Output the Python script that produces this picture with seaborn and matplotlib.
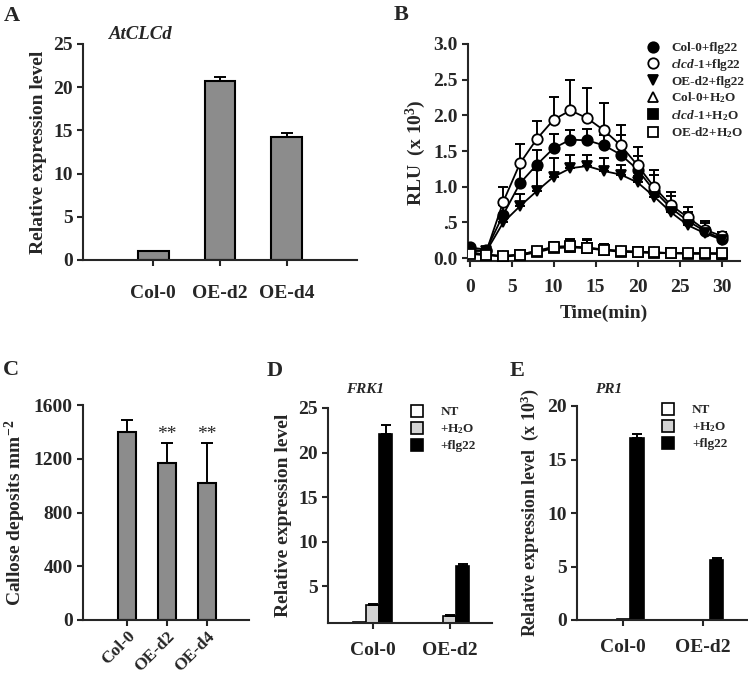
import matplotlib
matplotlib.use('Agg')
import matplotlib.pyplot as plt
from matplotlib.lines import Line2D
import numpy as np
from pandas import DataFrame
import seaborn as sns

# ---- panel A: AtCLCd expression
lines_a = ['Col-0', 'OE-d2', 'OE-d4']
expr_a = [1.0, 20.7, 14.2]
err_a = [0.08, 0.5, 0.45]

# ---- panel B: ROS burst (RLU x 10^3)
time_b = [0, 2, 4, 6, 8, 10, 12, 14, 16, 18, 20, 22, 24, 26, 28, 30]
col_flg = [0.15, 0.12, 0.61, 1.05, 1.31, 1.54, 1.66, 1.65, 1.58, 1.45, 1.24, 0.94, 0.70, 0.52, 0.38, 0.27]
col_flg_err = [0.03, 0.02, 0.14, 0.25, 0.20, 0.20, 0.14, 0.16, 0.14, 0.28, 0.19, 0.23, 0.17, 0.13, 0.11, 0.06]
clcd_flg = [0.10, 0.10, 0.79, 1.33, 1.67, 1.94, 2.07, 1.96, 1.79, 1.58, 1.30, 0.99, 0.74, 0.57, 0.40, 0.31]
clcd_flg_err = [0.03, 0.02, 0.20, 0.27, 0.25, 0.32, 0.42, 0.43, 0.39, 0.28, 0.26, 0.25, 0.18, 0.14, 0.12, 0.05]
oe_flg = [0.12, 0.10, 0.50, 0.73, 0.94, 1.14, 1.26, 1.29, 1.22, 1.17, 1.06, 0.86, 0.64, 0.46, 0.35, 0.26]
oe_flg_err = [0.02, 0.02, 0.10, 0.17, 0.30, 0.26, 0.19, 0.16, 0.18, 0.13, 0.09, 0.07, 0.09, 0.09, 0.07, 0.04]
col_h2o = [0.07, 0.05, 0.03, 0.05, 0.10, 0.15, 0.16, 0.15, 0.12, 0.10, 0.09, 0.08, 0.07, 0.07, 0.07, 0.06]
clcd_h2o = [0.08, 0.05, 0.02, 0.04, 0.08, 0.14, 0.15, 0.14, 0.11, 0.09, 0.08, 0.07, 0.07, 0.06, 0.06, 0.06]
oe_h2o = [0.06, 0.04, 0.03, 0.05, 0.10, 0.16, 0.17, 0.14, 0.12, 0.10, 0.09, 0.08, 0.07, 0.07, 0.07, 0.07]
h2o_err = [0.02, 0.02, 0.02, 0.02, 0.04, 0.06, 0.10, 0.12, 0.08, 0.05, 0.03, 0.02, 0.02, 0.02, 0.02, 0.02]

# ---- panel C: callose deposits
lines_c = ['Col-0', 'OE-d2', 'OE-d4']
callose = [1400, 1170, 1020]
callose_err = [90, 145, 295]
signif_c = ['', '**', '**']

# ---- panels D / E: marker genes
groups_de = ['Col-0', 'OE-d2']
treat_de = ['NT', '+H$_2$O', '+flg22']
frk1 = {'NT': [1.0, 0.9], '+H$_2$O': [2.9, 1.7], '+flg22': [22.1, 7.3]}
frk1_err = {'NT': [0.0, 0.0], '+H$_2$O': [0.12, 0.1], '+flg22': [1.0, 0.2]}
pr1 = {'NT': [0.02, 0.02], '+H$_2$O': [0.05, 0.04], '+flg22': [17.0, 5.6]}
pr1_err = {'NT': [0.0, 0.0], '+H$_2$O': [0.0, 0.0], '+flg22': [0.4, 0.15]}
treat_colors = ['white', '#d3d3d3', 'black']

sns.set_style('ticks')
plt.rcParams['font.family'] = ['Liberation Serif', 'DejaVu Serif']
plt.rcParams['font.weight'] = 'bold'
plt.rcParams['axes.labelweight'] = 'bold'
plt.rcParams['mathtext.fontset'] = 'custom'
plt.rcParams['mathtext.rm'] = 'Liberation Serif:bold'
plt.rcParams['mathtext.it'] = 'Liberation Serif:bold:italic'
plt.rcParams['mathtext.bf'] = 'Liberation Serif:bold'
plt.rcParams['mathtext.default'] = 'rm'
plt.rcParams['axes.linewidth'] = 1.5
plt.rcParams['xtick.major.width'] = 1.5
plt.rcParams['ytick.major.width'] = 1.5
plt.rcParams['xtick.major.size'] = 4
plt.rcParams['ytick.major.size'] = 4

TICK = 14
LAB = 14

fig = plt.figure(figsize=(7.48, 6.8), dpi=100)


def px_axes(l, t, r, b):
    W, H = 748.0, 680.0
    return fig.add_axes([l / W, 1 - b / H, (r - l) / W, (b - t) / H])


def style(ax, size=TICK):
    sns.despine(ax=ax)
    ax.tick_params(axis='both', labelsize=size)
    for t in ax.get_xticklabels() + ax.get_yticklabels():
        t.set_fontweight('bold')


def upper_err(ax, x, y, e, cap=4):
    ax.errorbar(x, y, yerr=[np.zeros(len(e)), e], fmt='none', ecolor='black',
                elinewidth=1.4, capsize=cap, capthick=1.4, zorder=1)


# ================= A
axA = px_axes(83, 44, 357, 260)
dfa = DataFrame({'line': lines_a, 'expr': expr_a})
sns.barplot(data=dfa, x='line', y='expr', color='#8c8c8c', saturation=1,
            edgecolor='black', linewidth=1.5, width=0.46, errorbar=None, ax=axA)
upper_err(axA, range(3), expr_a, err_a)
axA.set_xlim(-1.05, 3.05)
axA.set_ylim(0, 25)
axA.set_yticks([0, 5, 10, 15, 20, 25])
axA.set_xlabel('')
axA.set_ylabel('Relative expression level', fontsize=LAB)
style(axA)
axA.tick_params(axis='x', pad=14)
axA.text(-0.18, 26.05, 'AtCLCd', fontsize=13.5, fontstyle='italic', fontweight='bold',
         ha='center', va='center')

# ================= B
axB = px_axes(468, 44, 740, 261)
series_b = [
    ('Col-0+flg22', col_flg, col_flg_err, 'o', 'black'),
    ('$\\mathit{clcd}$-$\\mathit{1}$+flg22', clcd_flg, clcd_flg_err, 'o', 'white'),
    ('OE-d2+flg22', oe_flg, oe_flg_err, 'v', 'black'),
    ('Col-0+H$_2$O', col_h2o, h2o_err, '^', 'white'),
    ('$\\mathit{clcd}$-$\\mathit{1}$+H$_2$O', clcd_h2o, h2o_err, 's', 'black'),
    ('OE-d2+H$_2$O', oe_h2o, h2o_err, 's', 'white'),
]
handles = []
for lab, vals, err, mk, fc in series_b:
    upper_err(axB, time_b, vals, err, cap=3.5)
    sns.lineplot(x=time_b, y=vals, ax=axB, color='black', linewidth=1.3,
                 marker=mk, markersize=7.5, markerfacecolor=fc,
                 markeredgecolor='black', markeredgewidth=1.3, zorder=3)
    handles.append(Line2D([], [], linestyle='none', marker=mk, markersize=7.5,
                          markerfacecolor=fc, markeredgecolor='black', markeredgewidth=1.3))
axB.set_xlim(-0.2, 32.2)
axB.set_ylim(-0.04, 3.0)
axB.set_xticks([0, 5, 10, 15, 20, 25, 30])
axB.set_yticks([0, 0.5, 1.0, 1.5, 2.0, 2.5, 3.0])
axB.set_yticklabels(['0.0', '.5', '1.0', '1.5', '2.0', '2.5', '3.0'])
axB.set_xlabel('Time(min)', fontsize=LAB, labelpad=6)
axB.set_ylabel('RLU  (x 10$^{3}$)', fontsize=LAB)
style(axB)
axB.tick_params(axis='x', pad=9)
axB.legend(handles, [s[0] for s in series_b], loc='upper left', bbox_to_anchor=(0.63, 1.04),
           frameon=False, fontsize=9.5, handlelength=1.0, handletextpad=0.9,
           labelspacing=0.2, borderpad=0)

# ================= C
axC = px_axes(83, 405, 249, 620)
dfc = DataFrame({'line': lines_c, 'callose': callose})
sns.barplot(data=dfc, x='line', y='callose', color='#8c8c8c', saturation=1,
            edgecolor='black', linewidth=1.5, width=0.47, errorbar=None, ax=axC)
upper_err(axC, range(3), callose, callose_err, cap=4)
for i, s in enumerate(signif_c):
    if s:
        axC.text(i, callose[i] + callose_err[i] + 5, s, ha='center', va='bottom',
                 fontsize=14, fontweight='normal')
axC.set_xlim(-1.1, 3.05)
axC.set_ylim(0, 1600)
axC.set_yticks([0, 400, 800, 1200, 1600])
axC.set_xlabel('')
axC.set_ylabel('Callose deposits mm$^{-2}$', fontsize=LAB)
style(axC)
axC.tick_params(axis='x', labelsize=12.5, pad=2)
plt.setp(axC.get_xticklabels(), rotation=45, ha='right', rotation_mode='anchor')


# ================= D / E
def grouped(ax, vals, errs):
    rows = []
    for tr in treat_de:
        for g, v in zip(groups_de, vals[tr]):
            rows.append([g, tr, v])
    df = DataFrame(rows, columns=['line', 'treat', 'value'])
    sns.barplot(data=df, x='line', y='value', hue='treat', hue_order=treat_de,
                palette=treat_colors, saturation=1, edgecolor='black', linewidth=1.2,
                width=0.51, errorbar=None, ax=ax, legend=False)
    bw = 0.51 / 3
    for k, tr in enumerate(treat_de):
        xs = np.arange(len(groups_de)) + (k - 1) * bw
        if max(errs[tr]) > 0:
            upper_err(ax, xs, vals[tr], errs[tr], cap=3.5)
    hs = [Line2D([], [], linestyle='none', marker='s', markersize=9,
                 markerfacecolor=c, markeredgecolor='black', markeredgewidth=1.2)
          for c in treat_colors]
    ax.legend(hs, treat_de, loc='upper left', bbox_to_anchor=(0.46, 1.04), frameon=False,
              fontsize=9.5, handlelength=1.0, handletextpad=1.3, labelspacing=0.3,
              borderpad=0)
    ax.set_xlim(-0.58, 1.55)
    ax.set_xlabel('')


axD = px_axes(328, 408, 492, 623)
grouped(axD, frk1, frk1_err)
axD.set_ylim(0.9, 25)
axD.set_yticks([5, 10, 15, 20, 25])
axD.set_ylabel('Relative expression level', fontsize=LAB)
style(axD)
axD.tick_params(axis='x', pad=10)
axD.text(-0.1, 27.1, 'FRK1', fontsize=11, fontstyle='italic', fontweight='bold',
         ha='center', va='center')

axE = px_axes(577, 406, 747, 620)
grouped(axE, pr1, pr1_err)
axE.set_ylim(0, 20)
axE.set_yticks([0, 5, 10, 15, 20])
axE.set_ylabel('Relative expression level  (x 10$^{3}$)', fontsize=13)
style(axE)
axE.tick_params(axis='x', pad=10)
axE.text(-0.19, 21.5, 'PR1', fontsize=11, fontstyle='italic', fontweight='bold',
         ha='center', va='center')

# panel letters
for lab, x, y in [('A', 4, 6), ('B', 394, 5), ('C', 3, 360), ('D', 267, 361), ('E', 510, 361)]:
    fig.text(x / 748, 1 - y / 680, lab, fontsize=16, fontweight='bold', va='top', ha='left')

fig.savefig('out.png', dpi=100)
